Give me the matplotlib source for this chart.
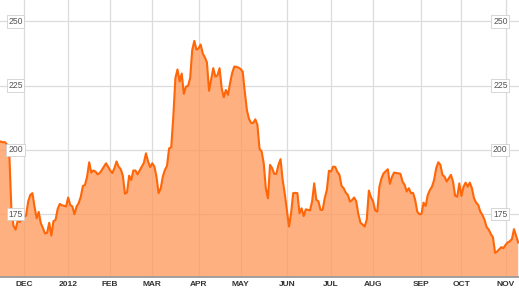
import numpy as np
import matplotlib.pyplot as plt

# trading-day offset from 1 Dec 2011 and closing price
days = list(range(-12, 236))
price = [
    203.5, 203.2, 203.0, 203.0, 202.0, 199.0, 177.0, 170.5, 169.0, 172.5,
    172.0, 173.5, 174.0, 174.5, 180.0, 182.5, 183.2, 178.0, 173.4, 175.9,
    171.5, 169.6, 167.5, 167.8, 171.7, 166.7, 172.3, 172.8, 177.0, 179.0,
    178.5, 178.3, 178.0, 181.5, 178.6, 178.0, 175.0, 178.0, 179.3, 181.8,
    186.0, 186.4, 189.6, 195.2, 191.2, 192.0, 191.6, 190.5, 191.0, 192.2,
    193.5, 194.8, 193.5, 192.0, 191.0, 192.9, 195.5, 193.5, 192.5, 190.0,
    183.0, 183.5, 190.0, 188.3, 192.0, 192.0, 190.5, 192.0, 193.5, 195.0,
    198.7, 195.5, 193.3, 194.8, 193.5, 189.6, 183.2, 185.0, 189.6, 192.2,
    193.8, 200.6, 201.0, 213.0, 228.0, 231.3, 226.6, 229.7, 221.8, 224.6,
    224.9, 227.9, 238.9, 242.4, 239.0, 239.5, 241.0, 237.5, 236.0, 234.0,
    223.0, 227.5, 231.8, 228.5, 229.0, 231.8, 224.0, 220.5, 223.3, 221.4,
    226.0, 230.0, 232.4, 232.3, 232.0, 231.5, 230.4, 222.5, 215.5, 212.0,
    210.5, 210.5, 211.9, 209.7, 200.5, 199.4, 194.8, 185.0, 181.2, 194.2,
    192.9, 190.7, 190.7, 194.2, 196.4, 188.3, 183.0, 176.7, 170.2, 175.4,
    183.2, 183.3, 183.2, 175.4, 177.3, 174.3, 176.9, 176.7, 176.5, 180.0,
    187.0, 180.6, 180.0, 176.7, 176.7, 181.2, 184.4, 191.9, 191.6, 193.5,
    193.4, 191.5, 190.3, 186.0, 185.1, 183.4, 182.5, 179.9, 180.5, 181.5,
    180.0, 175.0, 171.7, 171.0, 170.2, 173.0, 184.2, 181.6, 180.0, 176.5,
    176.0, 185.7, 189.0, 190.9, 191.7, 192.5, 186.8, 189.6, 191.2, 191.0,
    190.9, 190.7, 187.7, 186.4, 183.8, 185.1, 183.2, 183.3, 180.6, 176.0,
    175.0, 175.1, 179.5, 178.2, 182.5, 184.4, 185.7, 188.3, 192.9, 195.2,
    194.2, 190.3, 189.6, 187.7, 189.0, 190.3, 187.7, 182.2, 181.8, 187.0,
    182.1, 185.7, 187.3, 185.7, 187.3, 185.1, 181.2, 179.5, 178.6, 176.0,
    174.7, 172.8, 170.0, 169.0, 167.3, 166.0, 160.0, 160.5, 161.4, 162.2,
    161.8, 163.1, 164.0, 164.5, 165.3, 169.2, 166.6, 164.0,
]

# month labels at the first trading day of each month
month_labels = ["DEC", "2012", "FEB", "MAR", "APR", "MAY", "JUN", "JUL",
                "AUG", "SEP", "OCT", "NOV"]
month_days = [0, 21, 41, 61, 83, 103, 125, 146, 166, 189, 208, 229]
price_ticks = [175, 200, 225, 250]

fig = plt.figure(figsize=(5.19, 2.92), dpi=100)
ax = fig.add_axes([0, 0.0497, 1, 0.9503])

x = np.asarray(days)
y = np.asarray(price)

# grid first, area drawn slightly see-through on top of it
ax.set_axisbelow(True)
ax.grid(True, color="#dcdcdc", linewidth=0.9)
ax.fill_between(x, y, 0, color="#ff9a5c", alpha=0.78, linewidth=0, zorder=2)
ax.plot(x, y, color="#ff6608", linewidth=1.5, zorder=3)

ax.set_xlim(-11.41, 235.38)
ax.set_ylim(150.4, 258.3)

ax.set_xticks(month_days)
ax.set_xticklabels(month_labels, fontsize=6, fontweight="bold",
                   color="#333333", family="Liberation Sans")
ax.tick_params(axis="x", length=0, pad=2.2)
ax.set_yticks(price_ticks)
ax.tick_params(axis="y", length=0, labelleft=False)

for s in ["top", "left", "right"]:
    ax.spines[s].set_visible(False)
ax.spines["bottom"].set_color("#9a9a9a")
ax.spines["bottom"].set_linewidth(1.3)
ax.spines["bottom"].set_zorder(4)

# boxed price labels on both sides
trans = ax.get_yaxis_transform()
for v in price_ticks:
    for xpos in [0.0299, 0.964]:
        ax.text(xpos, v, str(v), transform=trans, ha="center", va="center",
                fontsize=6.2, color="#555555", family="Liberation Sans",
                zorder=5,
                bbox=dict(boxstyle="square,pad=0.2", fc="white",
                          ec="#d0d0d0", lw=0.6))

fig.savefig("out.png", dpi=100)
